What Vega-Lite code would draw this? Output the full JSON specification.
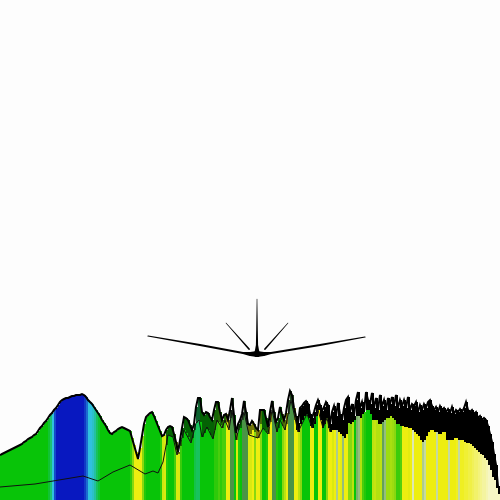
{"$schema":"https://vega.github.io/schema/vega-lite/v6.json","width":500,"height":500,"padding":0,"autosize":{"type":"none"},"background":"#fdfdfd","view":{"stroke":null},
"config":{"axis":{"disable":true},"legend":{"disable":true}},
"datasets":{"bars":[
{"x":0,"e":2,"t":45,"b":45,"c":3},{"x":2,"e":4,"t":46,"b":46,"c":3},{"x":4,"e":6,"t":47,"b":47,"c":3},{"x":6,"e":8,"t":48,"b":48,"c":3},{"x":8,"e":10,"t":49,"b":49,"c":3},{"x":10,"e":12,"t":50,"b":50,"c":3},{"x":12,"e":14,"t":51,"b":51,"c":3},{"x":14,"e":16,"t":52,"b":52,"c":3},{"x":16,"e":18,"t":53,"b":53,"c":3},{"x":18,"e":20,"t":54,"b":54,"c":3},{"x":20,"e":22,"t":55,"b":55,"c":3},{"x":22,"e":24,"t":56,"b":56,"c":3},{"x":24,"e":26,"t":58,"b":58,"c":3},{"x":26,"e":28,"t":59,"b":59,"c":3},{"x":28,"e":30,"t":61,"b":61,"c":3},{"x":30,"e":32,"t":62,"b":62,"c":3},{"x":32,"e":34,"t":63,"b":63,"c":3},{"x":34,"e":36,"t":65,"b":65,"c":3},{"x":36,"e":38,"t":66,"b":66,"c":3},{"x":38,"e":40,"t":69,"b":69,"c":3},{"x":40,"e":42,"t":72,"b":72,"c":3},{"x":42,"e":44,"t":74,"b":74,"c":3},{"x":44,"e":46,"t":77,"b":77,"c":3},{"x":46,"e":48,"t":79,"b":79,"c":3},{"x":48,"e":50,"t":82,"b":82,"c":3.2},{"x":50,"e":52,"t":85,"b":85,"c":3.5},{"x":52,"e":54,"t":87,"b":87,"c":4},{"x":54,"e":56,"t":90,"b":90,"c":4.7},{"x":56,"e":58,"t":92,"b":92,"c":5},{"x":58,"e":60,"t":95,"b":95,"c":5},{"x":60,"e":62,"t":98,"b":98,"c":5},{"x":62,"e":64,"t":100,"b":100,"c":5},{"x":64,"e":66,"t":101,"b":101,"c":5},{"x":66,"e":68,"t":102,"b":102,"c":5},{"x":68,"e":70,"t":102,"b":102,"c":5},{"x":70,"e":72,"t":103,"b":103,"c":5},{"x":72,"e":74,"t":104,"b":104,"c":5},{"x":74,"e":76,"t":104,"b":104,"c":5},{"x":76,"e":78,"t":105,"b":105,"c":5},{"x":78,"e":80,"t":105,"b":105,"c":5},{"x":80,"e":82,"t":105,"b":105,"c":5},{"x":82,"e":84,"t":106,"b":106,"c":5},{"x":84,"e":86,"t":105,"b":105,"c":4.8},{"x":86,"e":88,"t":103,"b":103,"c":4.5},{"x":88,"e":90,"t":100,"b":100,"c":4},{"x":90,"e":92,"t":98,"b":98,"c":4},{"x":92,"e":94,"t":96,"b":96,"c":3.9},{"x":94,"e":96,"t":93,"b":93,"c":3.7},{"x":96,"e":98,"t":90,"b":90,"c":3.4},{"x":98,"e":100,"t":87,"b":87,"c":3.2},{"x":100,"e":102,"t":84,"b":84,"c":3},{"x":102,"e":104,"t":80,"b":80,"c":3},{"x":104,"e":106,"t":77,"b":77,"c":3},{"x":106,"e":108,"t":74,"b":74,"c":3},{"x":108,"e":110,"t":70,"b":70,"c":3},{"x":110,"e":112,"t":67,"b":67,"c":3},{"x":112,"e":114,"t":66,"b":66,"c":3},{"x":114,"e":116,"t":68,"b":68,"c":3},{"x":116,"e":118,"t":69,"b":69,"c":3},{"x":118,"e":120,"t":71,"b":71,"c":3},{"x":120,"e":122,"t":72,"b":72,"c":3},{"x":122,"e":124,"t":73,"b":73,"c":3},{"x":124,"e":126,"t":72,"b":72,"c":3},{"x":126,"e":128,"t":71,"b":71,"c":3},{"x":128,"e":130,"t":70,"b":70,"c":3},{"x":130,"e":132,"t":69,"b":69,"c":2.7},{"x":132,"e":134,"t":62,"b":62,"c":2},{"x":134,"e":136,"t":55,"b":55,"c":1},{"x":136,"e":138,"t":48,"b":48,"c":1},{"x":138,"e":140,"t":41,"b":41,"c":1},{"x":140,"e":142,"t":52,"b":52,"c":1},{"x":142,"e":144,"t":64,"b":64,"c":2},{"x":144,"e":146,"t":76,"b":76,"c":2.8},{"x":146,"e":148,"t":83,"b":83,"c":3},{"x":148,"e":150,"t":85,"b":85,"c":3},{"x":150,"e":152,"t":87,"b":87,"c":3},{"x":152,"e":154,"t":88,"b":88,"c":3},{"x":154,"e":156,"t":84,"b":84,"c":3},{"x":156,"e":158,"t":79,"b":79,"c":3},{"x":158,"e":160,"t":74,"b":74,"c":3},{"x":160,"e":162,"t":69,"b":69,"c":2.7},{"x":162,"e":164,"t":64,"b":64,"c":1.3},{"x":164,"e":166,"t":65,"b":65,"c":1.2},{"x":166,"e":168,"t":70,"b":55,"c":2.8},{"x":168,"e":170,"t":73,"b":65,"c":3},{"x":170,"e":172,"t":74,"b":64,"c":3},{"x":172,"e":174,"t":73,"b":63,"c":3},{"x":174,"e":176,"t":66,"b":58,"c":2.5},{"x":176,"e":178,"t":58,"b":50,"c":1.2},{"x":178,"e":180,"t":48,"b":46,"c":1.2},{"x":180,"e":182,"t":60,"b":54,"c":2.6},{"x":182,"e":184,"t":72,"b":62,"c":3},{"x":184,"e":186,"t":83,"b":70,"c":3},{"x":186,"e":188,"t":82,"b":67,"c":3},{"x":188,"e":190,"t":80,"b":63,"c":3},{"x":190,"e":192,"t":75,"b":59,"c":3},{"x":192,"e":194,"t":70,"b":62,"c":3},{"x":194,"e":196,"t":76,"b":70,"c":3.3},{"x":196,"e":198,"t":93,"b":77,"c":3.4},{"x":198,"e":200,"t":102,"b":79,"c":3.4},{"x":200,"e":202,"t":102,"b":78,"c":3},{"x":202,"e":204,"t":88,"b":63,"c":3},{"x":204,"e":206,"t":85,"b":67,"c":3},{"x":206,"e":208,"t":88,"b":71,"c":3},{"x":208,"e":210,"t":87,"b":70,"c":3},{"x":210,"e":212,"t":83,"b":65,"c":3},{"x":212,"e":214,"t":80,"b":62,"c":3},{"x":214,"e":216,"t":90,"b":70,"c":2.7},{"x":216,"e":218,"t":98,"b":78,"c":2.7},{"x":218,"e":220,"t":98,"b":78,"c":2.5},{"x":220,"e":222,"t":88,"b":75,"c":2.7},{"x":222,"e":224,"t":80,"b":72,"c":2.5},{"x":224,"e":226,"t":85,"b":77,"c":2.5},{"x":226,"e":228,"t":86,"b":78,"c":1},{"x":228,"e":230,"t":80,"b":72,"c":1},{"x":230,"e":232,"t":90,"b":82,"c":-0.7},{"x":232,"e":234,"t":102,"b":90,"c":-0.7},{"x":234,"e":236,"t":85,"b":74,"c":3},{"x":236,"e":238,"t":67,"b":60,"c":1.2},{"x":238,"e":240,"t":76,"b":70,"c":2.8},{"x":240,"e":242,"t":80,"b":72,"c":3},{"x":242,"e":244,"t":86,"b":80,"c":-0.7},{"x":244,"e":246,"t":99,"b":88,"c":-0.7},{"x":246,"e":248,"t":88,"b":78,"c":-0.7},{"x":248,"e":250,"t":76,"b":65,"c":1.2},{"x":250,"e":252,"t":75,"b":66,"c":1.2},{"x":252,"e":254,"t":79,"b":70,"c":1},{"x":254,"e":256,"t":76,"b":68,"c":2},{"x":256,"e":258,"t":72,"b":62,"c":1},{"x":258,"e":260,"t":70,"b":62,"c":1},{"x":260,"e":262,"t":90,"b":76,"c":2},{"x":262,"e":264,"t":90,"b":72,"c":3},{"x":264,"e":266,"t":90,"b":70,"c":3},{"x":266,"e":268,"t":82,"b":68,"c":2.8},{"x":268,"e":270,"t":73,"b":66,"c":1},{"x":270,"e":272,"t":88,"b":78,"c":1},{"x":272,"e":274,"t":99,"b":90,"c":-0.7},{"x":274,"e":276,"t":88,"b":80,"c":-0.7},{"x":276,"e":278,"t":78,"b":68,"c":2.8},{"x":278,"e":280,"t":82,"b":72,"c":3},{"x":280,"e":282,"t":93,"b":80,"c":3},{"x":282,"e":284,"t":86,"b":74,"c":2},{"x":284,"e":286,"t":80,"b":70,"c":1.5},{"x":286,"e":288,"t":87,"b":76,"c":1},{"x":288,"e":290,"t":100,"b":86,"c":-0.7},{"x":290,"e":292,"t":109,"b":100,"c":-0.7},{"x":292,"e":294,"t":105,"b":92,"c":-0.7},{"x":294,"e":296,"t":92,"b":80,"c":1},{"x":296,"e":298,"t":84,"b":70,"c":1},{"x":298,"e":300,"t":77,"b":68,"c":1.5},{"x":300,"e":302,"t":92,"b":76,"c":2},{"x":302,"e":304,"t":94,"b":80,"c":3},{"x":304,"e":306,"t":97,"b":84,"c":3},{"x":306,"e":308,"t":99,"b":86,"c":3},{"x":308,"e":310,"t":96,"b":82,"c":3},{"x":310,"e":312,"t":86,"b":74,"c":1},{"x":312,"e":314,"t":82,"b":72,"c":1},{"x":314,"e":316,"t":88,"b":76,"c":3},{"x":316,"e":318,"t":95,"b":84,"c":3},{"x":318,"e":320,"t":100,"b":90,"c":1},{"x":320,"e":322,"t":95,"b":80,"c":1},{"x":322,"e":324,"t":89,"b":72,"c":3},{"x":324,"e":326,"t":93,"b":76,"c":3},{"x":326,"e":328,"t":98,"b":82,"c":2},{"x":328,"e":330,"t":95,"b":72,"c":1},
{"x":330,"e":332,"t":76,"b":68,"c":1},{"x":332,"e":334,"t":88,"b":70,"c":1.2},{"x":334,"e":336,"t":94,"b":70,"c":1},{"x":336,"e":338,"t":84,"b":70,"c":-0.3},{"x":338,"e":340,"t":97,"b":68,"c":1},{"x":340,"e":342,"t":86,"b":66,"c":1.1},{"x":342,"e":344,"t":80,"b":64,"c":-0.4},{"x":344,"e":346,"t":92,"b":62,"c":1},{"x":346,"e":348,"t":100,"b":66,"c":1},{"x":348,"e":350,"t":103,"b":77,"c":2},{"x":350,"e":352,"t":88,"b":76,"c":2},{"x":352,"e":354,"t":96,"b":78,"c":1.5},{"x":354,"e":356,"t":84,"b":80,"c":3},{"x":356,"e":358,"t":100,"b":84,"c":-0.5},{"x":358,"e":360,"t":108,"b":84,"c":-0.4},{"x":360,"e":362,"t":92,"b":82,"c":1.6},{"x":362,"e":364,"t":98,"b":86,"c":2.5},{"x":364,"e":366,"t":88,"b":88,"c":2.8},{"x":366,"e":368,"t":108,"b":90,"c":3},{"x":368,"e":370,"t":100,"b":90,"c":3},{"x":370,"e":372,"t":96,"b":86,"c":3},{"x":372,"e":374,"t":107,"b":80,"c":1.5},{"x":374,"e":376,"t":92,"b":80,"c":1.4},{"x":376,"e":378,"t":102,"b":80,"c":1.6},{"x":378,"e":380,"t":90,"b":76,"c":1.6},{"x":380,"e":382,"t":105,"b":76,"c":1.5},{"x":382,"e":384,"t":94,"b":78,"c":-0.6},{"x":384,"e":386,"t":100,"b":80,"c":-0.4},{"x":386,"e":388,"t":90,"b":82,"c":1.8},{"x":388,"e":390,"t":102,"b":82,"c":1.8},{"x":390,"e":392,"t":96,"b":84,"c":1.7},{"x":392,"e":394,"t":103,"b":82,"c":1.8},{"x":394,"e":396,"t":94,"b":80,"c":2},{"x":396,"e":398,"t":105,"b":76,"c":2.6},{"x":398,"e":400,"t":92,"b":76,"c":2.6},{"x":400,"e":402,"t":100,"b":74,"c":2.4},{"x":402,"e":404,"t":94,"b":74,"c":1},{"x":404,"e":406,"t":100,"b":73,"c":1},{"x":406,"e":408,"t":92,"b":73,"c":1},{"x":408,"e":410,"t":103,"b":72,"c":1.1},{"x":410,"e":412,"t":90,"b":72,"c":1},{"x":412,"e":414,"t":96,"b":70,"c":-0.1},{"x":414,"e":416,"t":94,"b":68,"c":1},{"x":416,"e":418,"t":98,"b":66,"c":1},{"x":418,"e":420,"t":88,"b":64,"c":1},{"x":420,"e":422,"t":95,"b":60,"c":1},{"x":422,"e":424,"t":90,"b":58,"c":-0.3},{"x":424,"e":426,"t":96,"b":60,"c":-0.2},{"x":426,"e":428,"t":92,"b":64,"c":1},{"x":428,"e":430,"t":98,"b":68,"c":1},{"x":430,"e":432,"t":100,"b":70,"c":1},{"x":432,"e":434,"t":94,"b":70,"c":1},{"x":434,"e":436,"t":90,"b":68,"c":1},{"x":436,"e":438,"t":93,"b":68,"c":-0.2},{"x":438,"e":440,"t":88,"b":66,"c":1},{"x":440,"e":442,"t":94,"b":66,"c":1},{"x":442,"e":444,"t":90,"b":68,"c":1},{"x":444,"e":446,"t":92,"b":68,"c":1},{"x":446,"e":448,"t":88,"b":60,"c":1},{"x":448,"e":450,"t":91,"b":60,"c":-0.2},{"x":450,"e":452,"t":87,"b":60,"c":1},{"x":452,"e":454,"t":93,"b":60,"c":1},{"x":454,"e":456,"t":86,"b":62,"c":1},{"x":456,"e":458,"t":90,"b":62,"c":0.9},{"x":458,"e":460,"t":88,"b":60,"c":-0.2},{"x":460,"e":462,"t":91,"b":60,"c":0.9},{"x":462,"e":464,"t":88,"b":60,"c":0.9},{"x":464,"e":466,"t":92,"b":58,"c":0.8},{"x":466,"e":468,"t":98,"b":57,"c":0.8},{"x":468,"e":470,"t":90,"b":57,"c":0.7},{"x":470,"e":472,"t":88,"b":56,"c":0.7},{"x":472,"e":474,"t":90,"b":54,"c":0.6},{"x":474,"e":476,"t":86,"b":52,"c":0.5},{"x":476,"e":478,"t":88,"b":50,"c":0.5},{"x":478,"e":480,"t":82,"b":48,"c":0.4},{"x":480,"e":482,"t":84,"b":46,"c":0.3},{"x":482,"e":484,"t":80,"b":45,"c":0.2},{"x":484,"e":486,"t":82,"b":42,"c":0.2},{"x":486,"e":488,"t":80,"b":40,"c":0.1},{"x":488,"e":490,"t":74,"b":35,"c":0},{"x":490,"e":492,"t":66,"b":30,"c":0},{"x":492,"e":494,"t":58,"b":23,"c":0},{"x":494,"e":496,"t":46,"b":20,"c":0},{"x":496,"e":498,"t":35,"b":12,"c":0},{"x":498,"e":500,"t":14,"b":6,"c":0}],
"lower":[{"x":0,"l":13},{"x":35,"l":16},{"x":83,"l":24},{"x":98,"l":19},{"x":113,"l":28},{"x":130,"l":35},{"x":145,"l":26},{"x":153,"l":29},{"x":158,"l":27},{"x":163,"l":38},{"x":168,"l":65},{"x":173,"l":63},{"x":177,"l":45},{"x":184,"l":70},{"x":191,"l":57},{"x":196,"l":77},{"x":199,"l":80},{"x":202,"l":63},{"x":207,"l":73},{"x":213,"l":61},{"x":217,"l":80},{"x":222,"l":72},{"x":225,"l":80},{"x":229,"l":70},{"x":232,"l":90},{"x":236,"l":60},{"x":239,"l":72},{"x":244,"l":88},{"x":249,"l":65},{"x":258,"l":62},{"x":263,"l":72},{"x":268,"l":66},{"x":272,"l":90},{"x":277,"l":68},{"x":280,"l":80},{"x":285,"l":70},{"x":291,"l":100},{"x":298,"l":68},{"x":307,"l":86},{"x":312,"l":72},{"x":318,"l":90},{"x":323,"l":72},{"x":327,"l":82},{"x":330,"l":68}],
"star":[
{"arm":"a","i":1,"x":148,"h":164,"w":1.2},{"arm":"a","i":2,"x":200,"h":155,"w":1.8},{"arm":"a","i":3,"x":243,"h":147,"w":2},{"arm":"a","i":4,"x":250,"h":146,"w":4},{"arm":"a","i":5,"x":257,"h":146,"w":6},
{"arm":"b","i":1,"x":365,"h":163,"w":1.2},{"arm":"b","i":2,"x":320,"h":155,"w":1.8},{"arm":"b","i":3,"x":271,"h":147,"w":2},{"arm":"b","i":4,"x":264,"h":146,"w":4},{"arm":"b","i":5,"x":257,"h":146,"w":6},
{"arm":"c","i":1,"x":257,"h":201,"w":0.6},{"arm":"c","i":2,"x":257,"h":170,"w":1.6},{"arm":"c","i":3,"x":257,"h":155,"w":2.2},{"arm":"c","i":4,"x":257,"h":150,"w":4},{"arm":"c","i":5,"x":257,"h":146,"w":6},
{"arm":"d","i":1,"x":226,"h":177,"w":0.5},{"arm":"d","i":2,"x":249,"h":151,"w":1.8},
{"arm":"e","i":1,"x":288,"h":177,"w":0.5},{"arm":"e","i":2,"x":265,"h":151,"w":1.8}]},
"layer":[
{"data":{"name":"bars"},"mark":{"type":"rect"},"encoding":{
"x":{"field":"x","type":"quantitative","scale":{"domain":[0,500],"nice":false,"zero":false}},"x2":{"field":"e"},
"y":{"field":"t","type":"quantitative","scale":{"domain":[0,500],"nice":false,"zero":false}},"y2":{"datum":0},
"color":{"field":"c","type":"quantitative","scale":{"domain":[-1,0,1,2,3,4,5],"range":["#006a10","#f6f6c4","#eeee10","#88d810","#08c408","#30c0e0","#0818c0"],"interpolate":"rgb"}}}},
{"data":{"name":"bars"},"transform":[{"filter":"datum.x >= 166 && datum.x < 296"}],"mark":{"type":"rect","color":"#000","opacity":0.5},"encoding":{"x":{"field":"x","type":"quantitative"},"x2":{"field":"e"},"y":{"field":"t","type":"quantitative"},"y2":{"field":"b"}}},
{"data":{"name":"bars"},"transform":[{"filter":"datum.x >= 296"}],"mark":{"type":"rect","color":"#000"},"encoding":{"x":{"field":"x","type":"quantitative"},"x2":{"field":"e"},"y":{"field":"t","type":"quantitative"},"y2":{"field":"b"}}},
{"data":{"name":"bars"},"mark":{"type":"line","color":"#000","strokeWidth":2,"clip":true},"encoding":{"x":{"field":"x","type":"quantitative"},"y":{"field":"t","type":"quantitative"}}},
{"data":{"name":"lower"},"mark":{"type":"line","color":"#111","strokeWidth":1},"encoding":{"x":{"field":"x","type":"quantitative"},"y":{"field":"l","type":"quantitative"}}},
{"data":{"name":"star"},"mark":{"type":"trail","color":"#000"},"encoding":{"x":{"field":"x","type":"quantitative"},"y":{"field":"h","type":"quantitative"},"detail":{"field":"arm"},"order":{"field":"i"},"size":{"field":"w","type":"quantitative","scale":null}}}
]}
